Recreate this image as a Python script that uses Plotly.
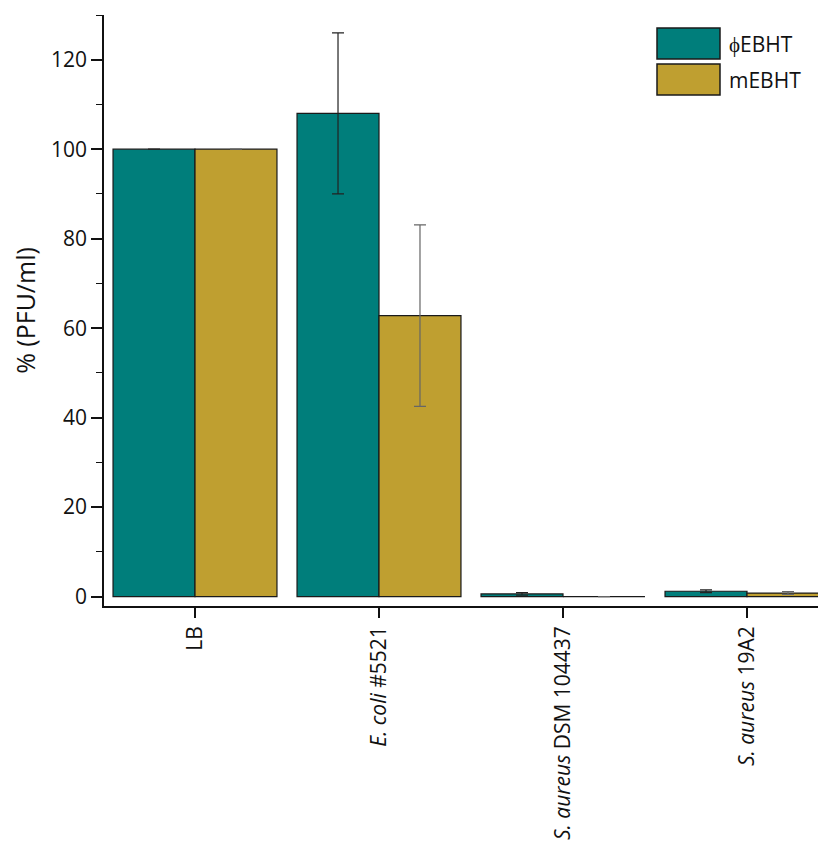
import plotly.graph_objects as go

nan = float("nan")
categories = ["LB", "<i>E. coli</i> #5521", "<i>S. aureus</i> DSM 104437", "<i>S. aureus</i> 19A2"]
series_names = ["ϕEBHT", "mEBHT"]
phi_values = [100, 108, 0.6, 1.2]
phi_errors = [nan, 18, 0.3, 0.3]
m_values = [100, 62.8, 0, 0.8]
m_errors = [nan, 20.3, nan, 0.3]

TEAL = "#007E7B"
GOLD = "#BF9F30"
FONT = "Open Sans"

# page offset (body margin) compensation
OFF = 8
PL, PT, PR, PB = 104, 15, 834, 606  # desired plot box in screenshot pixels

fig = go.Figure()
x_idx = list(range(len(categories)))
fig.add_trace(go.Bar(
    x=x_idx, y=phi_values, name=series_names[0],
    marker=dict(color=TEAL, line=dict(color="#1a1a1a", width=1.2)),
    error_y=dict(type="data", array=phi_errors, visible=True, color="#222222", thickness=1.2, width=6),
    showlegend=False,
))
fig.add_trace(go.Bar(
    x=x_idx, y=m_values, name=series_names[1],
    marker=dict(color=GOLD, line=dict(color="#1a1a1a", width=1.2)),
    error_y=dict(type="data", array=m_errors, visible=True, color="#666666", thickness=1.2, width=6),
    showlegend=False,
))

W = PR - PL
H = PB - PT


def px_x(x):
    return (x - PL) / W


def px_y(y):
    return 1 - (y - PT) / H


legend_items = [(TEAL, series_names[0], 0), (GOLD, series_names[1], 1)]
for color, label, i in legend_items:
    y0 = 28 + i * 36
    fig.add_shape(type="rect", xref="paper", yref="paper",
                  x0=px_x(657), x1=px_x(720),
                  y0=px_y(y0 + 31), y1=px_y(y0),
                  fillcolor=color, line=dict(color="#1a1a1a", width=1.5))
    fig.add_annotation(xref="paper", yref="paper",
                       x=px_x(727), y=px_y(y0 + 16),
                       text=label, showarrow=False, xanchor="left", yanchor="middle",
                       font=dict(family=FONT, size=21, color="#111111"))

fig.update_layout(
    width=826, height=849,
    margin=dict(l=PL - OFF, r=826 + OFF - PR, t=PT - OFF, b=849 + OFF - PB),
    plot_bgcolor="white", paper_bgcolor="white",
    barmode="group", bargap=0.109, bargroupgap=0,
    font=dict(family=FONT, color="#111111"),
    xaxis=dict(
        range=[-(195 - PL) / 184, (PR - 195) / 184],
        tickmode="array", tickvals=x_idx, ticktext=categories,
        tickangle=-90, ticks="outside", ticklen=10, tickwidth=1.5, tickcolor="#111111",
        showline=True, linecolor="#111111", linewidth=1.5,
        showgrid=False, zeroline=False,
        tickfont=dict(family=FONT, size=21, color="#111111"),
    ),
    yaxis=dict(
        range=[-2.1, 130],
        tickmode="array", tickvals=[0, 20, 40, 60, 80, 100, 120],
        ticks="outside", ticklen=11, tickwidth=1.5, tickcolor="#111111",
        minor=dict(ticks="outside", ticklen=6, tickwidth=1.2, tickcolor="#111111",
                   tickvals=[10, 30, 50, 70, 90, 110, 130], showgrid=False),
        showline=True, linecolor="#111111", linewidth=1.5,
        showgrid=False, zeroline=False,
        tickfont=dict(family=FONT, size=21, color="#111111"),
        title=dict(text="% (PFU/ml)", font=dict(family=FONT, size=25, color="#111111"), standoff=12),
    ),
)

fig.write_html("out.html")
